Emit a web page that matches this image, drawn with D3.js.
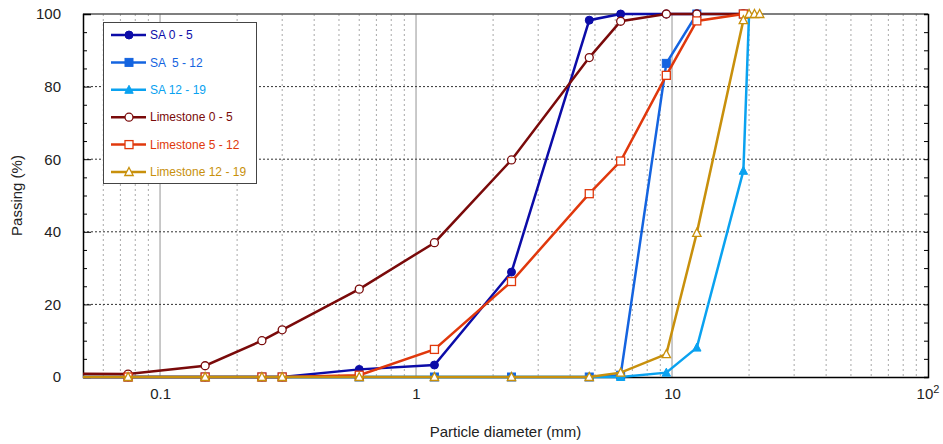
<!DOCTYPE html>
<html>
<head>
<meta charset="utf-8">
<script src="https://cdn.jsdelivr.net/npm/d3@7"></script>
<style>
  body { margin: 0; background: #fff; }
  svg { font-family: "Liberation Sans", Arial, sans-serif; }
</style>
</head>
<body>
<div id="chart"></div>
<script>
// sieve sizes (mm) shared by all series; null = no point
const sizes = [0.04, 0.075, 0.15, 0.25, 0.3, 0.6, 1.18, 2.36, 4.75, 6.3, 9.5, 12.5, 19, 20, 21, 22];

const sa05   = [0, 0, 0, 0, 0, 2.1, 3.3, 28.9, 98.3, 100, 100, 100, null, null, null, null];
const sa512  = [0, 0, 0, 0, 0, 0, 0, 0, 0, 0.5, 86.4, 100, 100, null, null, null];
const sa1219 = [0, 0, 0, 0, 0, 0, 0, 0, 0, 0, 1.2, 8.1, 56.8, 100, null, null];
const ls05   = [0.9, 0.8, 3.1, 10, 13, 24.2, 37, 59.8, 88, 98, 100, 100, 100, null, null, null];
const ls512  = [0, 0, 0, 0, 0, 0.5, 7.6, 26.3, 50.5, 59.5, 83.1, 98.1, 100, null, null, null];
const ls1219 = [0, 0, 0, 0, 0, 0, 0, 0, 0, 1.2, 6.3, 39.7, 98.3, 100, 100, 100];

const seriesNames = ["SA 0 - 5", "SA  5 - 12", "SA 12 - 19", "Limestone 0 - 5", "Limestone 5 - 12", "Limestone 12 - 19"];
const seriesValues = [sa05, sa512, sa1219, ls05, ls512, ls1219];
const seriesColors = ["#0c0ca8", "#1464e0", "#0aa2f0", "#7a0a0a", "#e0380c", "#c8900c"];
const seriesMarkers = ["circleFill", "squareFill", "triangleFill", "circleOpen", "squareOpen", "triangleOpen"];

const yTicks = [0, 20, 40, 60, 80, 100];
const xTicks = [0.1, 1, 10, 100];

const W = 943, H = 444;
const box = {left: 83, right: 928, top: 14, bottom: 377};

const x = d3.scaleLog().domain([0.05, 100]).range([box.left, box.right]);
const y = d3.scaleLinear().domain([0, 100]).range([box.bottom, box.top]);

const svg = d3.select("#chart").append("svg")
    .attr("width", W)
    .attr("height", H);

svg.append("defs").append("clipPath")
    .attr("id", "clip")
    .append("rect")
    .attr("x", box.left).attr("y", 0)
    .attr("width", W - box.left).attr("height", H);

// vertical grid (minor dotted, decades solid)
const minor = [];
[0.01, 0.1, 1, 10].forEach(d => {
    for (let k = 2; k <= 9; k++) {
        const v = d * k;
        if (v > 0.05 && v < 100) minor.push(v);
    }
});
svg.append("g").selectAll("line")
    .data(minor)
    .join("line")
    .attr("x1", d => x(d)).attr("x2", d => x(d))
    .attr("y1", box.top).attr("y2", box.bottom)
    .attr("stroke", "#a8a8a8")
    .attr("stroke-width", 1)
    .attr("stroke-dasharray", "2,3");

svg.append("g").selectAll("line")
    .data([0.1, 1, 10])
    .join("line")
    .attr("x1", d => x(d)).attr("x2", d => x(d))
    .attr("y1", box.top).attr("y2", box.bottom)
    .attr("stroke", "#b8b8b8")
    .attr("stroke-width", 1.5);

// horizontal grid
svg.append("g").selectAll("line")
    .data([20, 40, 60, 80])
    .join("line")
    .attr("x1", box.left).attr("x2", box.right)
    .attr("y1", d => y(d)).attr("y2", d => y(d))
    .attr("stroke", "#333")
    .attr("stroke-width", 1)
    .attr("stroke-dasharray", "2,2");

// frame: top
svg.append("line")
    .attr("x1", box.left).attr("x2", box.right)
    .attr("y1", box.top).attr("y2", box.top)
    .attr("stroke", "#555").attr("stroke-width", 1.5);

// y axis (ticks inside)
const yAxis = svg.append("g")
    .attr("transform", `translate(${box.left},0)`)
    .style("font", "15px 'Liberation Sans', Arial, sans-serif")
    .call(d3.axisLeft(y).tickValues(yTicks).tickSize(-8).tickPadding(22));
yAxis.select(".domain").attr("stroke-width", 1.5);
yAxis.selectAll("text").attr("fill", "#222");

svg.append("g")
    .attr("transform", `translate(${box.left},0)`)
    .call(d3.axisLeft(y).tickValues(d3.range(5, 100, 5).filter(d => d % 20)).tickSize(-4).tickFormat(""))
    .select(".domain").remove();

// right axis
const rAxis = svg.append("g")
    .attr("transform", `translate(${box.right},0)`)
    .call(d3.axisRight(y).tickValues(d3.range(5, 100, 5)).tickSize(-4).tickFormat(""));
rAxis.select(".domain").attr("stroke-width", 1.5);

// x axis
const xAxis = svg.append("g")
    .attr("transform", `translate(0,${box.bottom})`)
    .style("font", "15px 'Liberation Sans', Arial, sans-serif")
    .call(d3.axisBottom(x).tickValues(xTicks).tickSize(0).tickPadding(11).tickFormat(d => d === 100 ? "" : d3.format("~g")(d)));
xAxis.select(".domain").attr("stroke-width", 1.5);
xAxis.selectAll("text").attr("fill", "#222");
// 10^2 label
const sup = xAxis.append("text")
    .attr("x", x(100))
    .attr("y", 11)
    .attr("dy", "0.71em")
    .attr("text-anchor", "middle")
    .attr("fill", "#222")
    .style("font-size", "15px");
sup.append("tspan").text("10");
sup.append("tspan").attr("dy", -6).style("font-size", "11px").text("2");

// axis titles
svg.append("text")
    .attr("x", (box.left + box.right) / 2)
    .attr("y", 437)
    .attr("text-anchor", "middle")
    .style("font-size", "15px")
    .attr("fill", "#222")
    .text("Particle diameter (mm)");

svg.append("text")
    .attr("transform", `translate(22,${(box.top + box.bottom) / 2}) rotate(-90)`)
    .attr("text-anchor", "middle")
    .style("font-size", "15px")
    .attr("fill", "#222")
    .text("Passing (%)");

// markers
function drawMarker(sel, type, color) {
    if (type.startsWith("circle")) {
        sel.append("circle").attr("r", 4);
    } else if (type.startsWith("square")) {
        sel.append("rect").attr("x", -4).attr("y", -4).attr("width", 8).attr("height", 8);
    } else {
        sel.append("path").attr("d", "M0,-4.5L4.2,3.5L-4.2,3.5Z");
    }
    const open = type.endsWith("Open");
    sel.selectAll("circle,rect,path")
        .attr("fill", open ? "#fff" : color)
        .attr("stroke", color)
        .attr("stroke-width", open ? 1.3 : 1);
}

const line = d3.line()
    .x(d => x(d.s))
    .y(d => y(d.v));

const plot = svg.append("g").attr("clip-path", "url(#clip)");

seriesValues.forEach((vals, i) => {
    const pts = sizes.map((s, j) => ({s: s, v: vals[j]})).filter(d => d.v !== null);
    const g = plot.append("g");
    g.append("path")
        .datum(pts)
        .attr("fill", "none")
        .attr("stroke", seriesColors[i])
        .attr("stroke-width", 2.5)
        .attr("d", line);
    g.selectAll("g.m")
        .data(pts)
        .join("g")
        .attr("class", "m")
        .attr("transform", d => `translate(${x(d.s)},${y(d.v)})`)
        .each(function () { drawMarker(d3.select(this), seriesMarkers[i], seriesColors[i]); });
});

// legend
const legend = svg.append("g");
legend.append("rect")
    .attr("x", 103.5).attr("y", 22.5)
    .attr("width", 153).attr("height", 161)
    .attr("fill", "#fff")
    .attr("stroke", "#444")
    .attr("stroke-width", 1);

seriesNames.forEach((name, i) => {
    const ly = 35 + i * 27.4;
    const item = legend.append("g");
    item.append("line")
        .attr("x1", 111).attr("x2", 146)
        .attr("y1", ly).attr("y2", ly)
        .attr("stroke", seriesColors[i])
        .attr("stroke-width", 2.5);
    const m = item.append("g").attr("transform", `translate(129,${ly})`);
    drawMarker(m, seriesMarkers[i], seriesColors[i]);
    item.append("text")
        .attr("x", 150)
        .attr("y", ly)
        .attr("dy", "0.35em")
        .attr("fill", seriesColors[i])
        .style("font-size", "12px")
        .style("white-space", "pre")
        .text(name);
});
</script>
</body>
</html>
